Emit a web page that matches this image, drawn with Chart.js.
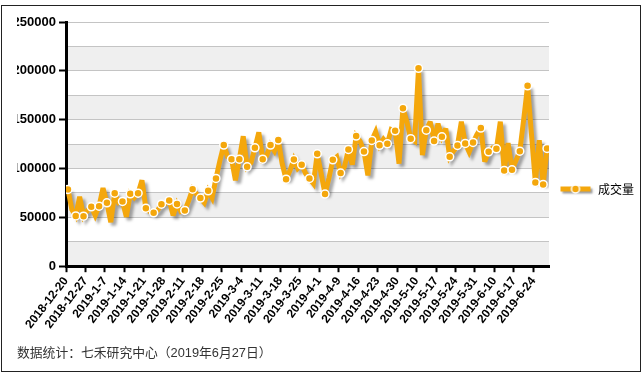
<!DOCTYPE html>
<html>
<head>
<meta charset="utf-8">
<script src="https://cdn.jsdelivr.net/npm/chart.js@4.4.1/dist/chart.umd.min.js"></script>
<style>
  html, body { margin: 0; padding: 0; background: #fff; }
  #wrap { position: relative; width: 643px; height: 373px; }
  #moldura { position: absolute; left: 1px; top: 5px; width: 638px; height: 365px; border: 1px solid #222; pointer-events: none; }
</style>
</head>
<body>
<div id="wrap">
  <canvas id="grafico" width="643" height="373"></canvas>
  <div id="moldura"></div>
</div>
<script>
// rotulos do eixo x (um a cada 5 pregoes)
const datas = [
  "2018-12-20", "2018-12-27", "2019-1-7", "2019-1-14", "2019-1-21", "2019-1-28",
  "2019-2-11", "2019-2-18", "2019-2-25", "2019-3-4", "2019-3-11", "2019-3-18",
  "2019-3-25", "2019-4-1", "2019-4-9", "2019-4-16", "2019-4-23", "2019-4-30",
  "2019-5-10", "2019-5-17", "2019-5-24", "2019-5-31", "2019-6-10", "2019-6-17",
  "2019-6-24"
];

// volume diario (成交量)
const volume = [
  78600, 58000, 51500, 71000, 51200, 57000, 60800, 52000, 61500, 80000,
  64900, 45000, 74800, 65000, 66300, 50500, 74100, 70000, 74800, 88000,
  59400, 56000, 54600, 57000, 63500, 64000, 67300, 52000, 63800, 56000,
  57100, 67000, 78900, 74000, 69700, 65000, 77200, 70000, 89900, 108000,
  124000, 112000, 109600, 88000, 109600, 133000, 101700, 106000, 121200, 137000,
  109600, 113000, 124000, 118000, 129100, 105000, 89100, 98000, 109300, 100000,
  103800, 95000, 89900, 84700, 115100, 95000, 73800, 90000, 108900, 112000,
  95300, 102000, 119500, 104000, 133200, 128000, 117400, 93000, 128800, 137600,
  123700, 130000, 125300, 140000, 138600, 105000, 161800, 148000, 130600, 128000,
  202600, 113700, 139300, 148000, 128100, 146000, 132500, 141000, 112000, 118000,
  123600, 148000, 125700, 117000, 126700, 135000, 141400, 107000, 117100, 121000,
  120200, 148000, 98000, 126000, 98700, 108000, 117800, 150000, 184700, 135000,
  85800, 129000, 83700, 120600
];

const nomeSerie = "成交量";
const rodape = "数据统计：七禾研究中心（2019年6月27日）";

const COR = "#F4A70C";

// icone da legenda: linha grossa com bolinha
function iconeLegenda() {
  const c = document.createElement("canvas");
  c.width = 38;
  c.height = 16;
  const g = c.getContext("2d");
  g.save();
  g.shadowColor = "rgba(0,0,0,0.4)";
  g.shadowOffsetX = 2;
  g.shadowOffsetY = 2;
  g.shadowBlur = 2;
  g.strokeStyle = COR;
  g.lineWidth = 5;
  g.beginPath();
  g.moveTo(4, 8);
  g.lineTo(34, 8);
  g.stroke();
  g.restore();
  g.beginPath();
  g.arc(19, 8, 4, 0, Math.PI * 2);
  g.fillStyle = COR;
  g.fill();
  g.lineWidth = 1.5;
  g.strokeStyle = "#fff";
  g.stroke();
  return c;
}

// faixas cinzas alternadas no fundo
const faixas = {
  id: "faixas",
  beforeDraw(chart) {
    const { ctx, chartArea: a, scales: { y } } = chart;
    ctx.save();
    ctx.fillStyle = "#efefef";
    for (let v = 0; v < y.max; v += 50000) {
      const topo = y.getPixelForValue(v + 25000);
      const base = y.getPixelForValue(v);
      ctx.fillRect(a.left, topo, a.right - a.left, base - topo);
    }
    ctx.restore();
  }
};

// sombra so na linha (nao nos pontos)
const sombraLinha = {
  id: "sombraLinha",
  beforeDatasetDraw(chart, args) {
    const linha = args.meta.dataset;
    if (!linha || linha._comSombra) return;
    const original = linha.draw.bind(linha);
    linha.draw = function (ctx, area) {
      ctx.save();
      ctx.miterLimit = 3;
      ctx.shadowColor = "rgba(0,0,0,0.35)";
      ctx.shadowOffsetX = 3;
      ctx.shadowOffsetY = 3;
      ctx.shadowBlur = 3;
      original(ctx, area);
      ctx.restore();
    };
    linha._comSombra = true;
  }
};

const ultimo = volume.length - 1;
const fonteNum = "\"Liberation Sans\", Arial, Helvetica, sans-serif";

new Chart(document.getElementById("grafico").getContext("2d"), {
  type: "line",
  data: {
    datasets: [{
      label: nomeSerie,
      data: volume.map((v, i) => ({ x: i, y: v })),
      borderColor: COR,
      backgroundColor: COR,
      borderWidth: 5,
      tension: 0,
      fill: false,
      pointRadius: (ctx) => (ctx.dataIndex % 2 === 0 || ctx.dataIndex === ultimo) ? 4 : 0,
      pointHoverRadius: 0,
      pointBackgroundColor: COR,
      pointBorderColor: "#fff",
      pointBorderWidth: 1.5
    }]
  },
  options: {
    responsive: false,
    animation: false,
    layout: { padding: { top: 22, left: 17, right: 2, bottom: 17 } },
    plugins: {
      tooltip: { enabled: false },
      legend: {
        position: "right",
        fullSize: true,
        maxWidth: 92,
        labels: {
          usePointStyle: true,
          pointStyle: iconeLegenda(),
          pointStyleWidth: 33,
          padding: 10,
          color: "#000",
          font: { size: 12, family: "\"Noto Sans CJK SC\", sans-serif" }
        }
      },
      title: {
        display: true,
        position: "bottom",
        align: "start",
        text: rodape,
        color: "#333",
        font: { size: 12.8, weight: "normal", family: fonteNum + ", \"Noto Sans CJK SC\"", lineHeight: 1 },
        padding: { top: 0, bottom: -4 }
      }
    },
    scales: {
      x: {
        type: "linear",
        min: -0.5,
        max: 123.5,
        afterBuildTicks: (s) => { s.ticks = datas.map((_, i) => ({ value: i * 5 - 0.5 })); },
        afterFit: (s) => { s.height = 81; },
        ticks: {
          autoSkip: false,
          minRotation: 52,
          maxRotation: 52,
          padding: 2,
          color: "#000",
          font: { size: 12, weight: "bold", family: fonteNum },
          callback: (v, i) => datas[i]
        },
        grid: { drawOnChartArea: false, tickLength: 6, tickWidth: 2, tickColor: "#000" },
        border: { display: true, color: "#000", width: 3 }
      },
      y: {
        min: 0,
        max: 250000,
        afterFit: (s) => { s.width = 49; },
        ticks: {
          stepSize: 25000,
          padding: 3,
          color: "#000",
          font: { size: 13, weight: "bold", family: fonteNum },
          callback: (v) => (v % 50000 === 0 ? String(v) : "")
        },
        grid: {
          color: "#c4c4c4",
          lineWidth: 1,
          tickLength: 7,
          tickWidth: 2,
          tickColor: (ctx) => (ctx.tick && ctx.tick.value % 50000 === 0 ? "#000" : "rgba(0,0,0,0)")
        },
        border: { display: true, color: "#000", width: 3 }
      }
    }
  },
  plugins: [faixas, sombraLinha]
});
</script>
</body>
</html>
